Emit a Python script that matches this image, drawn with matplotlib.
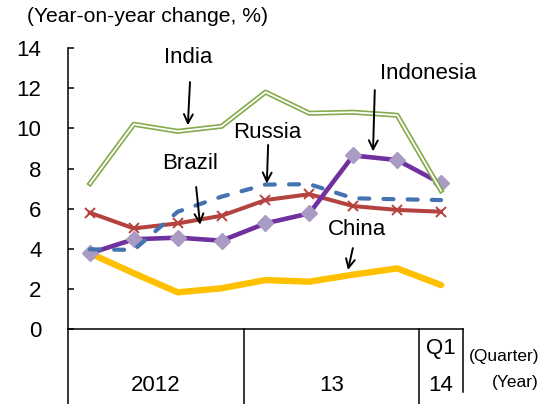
import matplotlib.pyplot as plt
from matplotlib.lines import Line2D

plt.rcParams['font.family'] = ['Liberation Sans', 'DejaVu Sans']

# quarterly data, 2012 Q1 .. 2014 Q1
quarters = list(range(9))
india = [7.25, 10.2, 9.85, 10.1, 11.8, 10.75, 10.8, 10.65, 6.9]
brazil = [5.8, 5.02, 5.27, 5.65, 6.43, 6.72, 6.13, 5.94, 5.85]
indonesia = [3.78, 4.48, 4.56, 4.41, 5.27, 5.77, 8.65, 8.42, 7.26]
russia = [3.98, 3.95, 5.85, 6.6, 7.2, 7.22, 6.52, 6.47, 6.43]
china = [3.78, 2.79, 1.84, 2.04, 2.45, 2.37, 2.72, 3.03, 2.2]

year_labels = ["2012", "13", "14"]
year_centers = [1.5, 5.5, 8.0]
year_bounds = [-0.5, 3.5, 7.5]

fig = plt.figure(figsize=(5.41, 4.04), dpi=100)
ax = fig.add_axes([0.1257, 0.1849, 0.7301, 0.6965])

# lines
ax.plot(quarters, china, color="#FFC000", lw=4.6, solid_capstyle="round", zorder=2)
ax.plot(quarters, brazil, color="#B4433F", lw=2.9, marker="x", ms=7,
        mew=1.4, mec="#B4433F", zorder=3)
ax.plot(quarters, indonesia, color="#7030A0", lw=3.3, marker="D", ms=8,
        mfc="#A99BC3", mec="#A99BC3", zorder=4)
ax.plot(quarters, russia, color="#4473B0", lw=3.0, dashes=(2.4, 3.4),
        dash_capstyle="round", zorder=5)
ax.plot(quarters, india, color="#84AB4C", lw=3.7, zorder=6)
ax.plot(quarters, india, color="white", lw=1.3, zorder=7)

ax.set_xlim(-0.5, 8.5)
ax.set_ylim(0, 14)
ax.set_yticks(range(0, 15, 2))
ax.set_xticks([])
ax.tick_params(axis="y", direction="in", length=4, width=1.1, pad=19, labelsize=16)
for s in ["top", "right"]:
    ax.spines[s].set_visible(False)
for s in ["left", "bottom"]:
    ax.spines[s].set_linewidth(1.1)

# labels with arrows
arrow = dict(arrowstyle="->", lw=1.4, color="black",
             mutation_scale=16, shrinkA=0, shrinkB=0)
labels = [
    ("India", (2.23, 13.5), (2.28, 12.3), (2.23, 10.15)),
    ("Russia", (4.03, 9.8), (4.06, 9.17), (4.03, 7.25)),
    ("Brazil", (2.28, 8.27), (2.42, 7.08), (2.51, 5.2)),
    ("Indonesia", (7.7, 12.75), (6.49, 11.9), (6.45, 8.85)),
    ("China", (6.08, 4.98), (5.99, 4.04), (5.88, 2.95)),
]
for name, tpos, start, tip in labels:
    ax.text(tpos[0], tpos[1], name, fontsize=16, ha="center", va="center", zorder=10)
    ax.annotate("", xy=tip, xytext=start, arrowprops=arrow, zorder=10)

# category table under the axis
tr = ax.get_xaxis_transform()
for xb in year_bounds:
    ax.add_line(Line2D([xb, xb], [0, -0.27], transform=tr, color="black",
                       lw=1.1, clip_on=False))
ax.add_line(Line2D([8.5, 8.5], [0, -0.223], transform=tr, color="black",
                   lw=1.1, clip_on=False))
for lab, xc in zip(year_labels, year_centers):
    ax.text(xc, -0.2, lab, transform=tr, fontsize=16, ha="center", va="center")
ax.text(8.0, -0.07, "Q1", transform=tr, fontsize=16, ha="center", va="center")

fig.text(539 / 541, 1 - 356 / 404, "(Quarter)", fontsize=12.5, ha="right", va="center")
fig.text(539 / 541, 1 - 382 / 404, "(Year)", fontsize=12.5, ha="right", va="center")
fig.text(27 / 541, 1 - 17 / 404, "(Year-on-year change, %)", fontsize=15.2,
         ha="left", va="center")

fig.savefig("out.png", dpi=100)
